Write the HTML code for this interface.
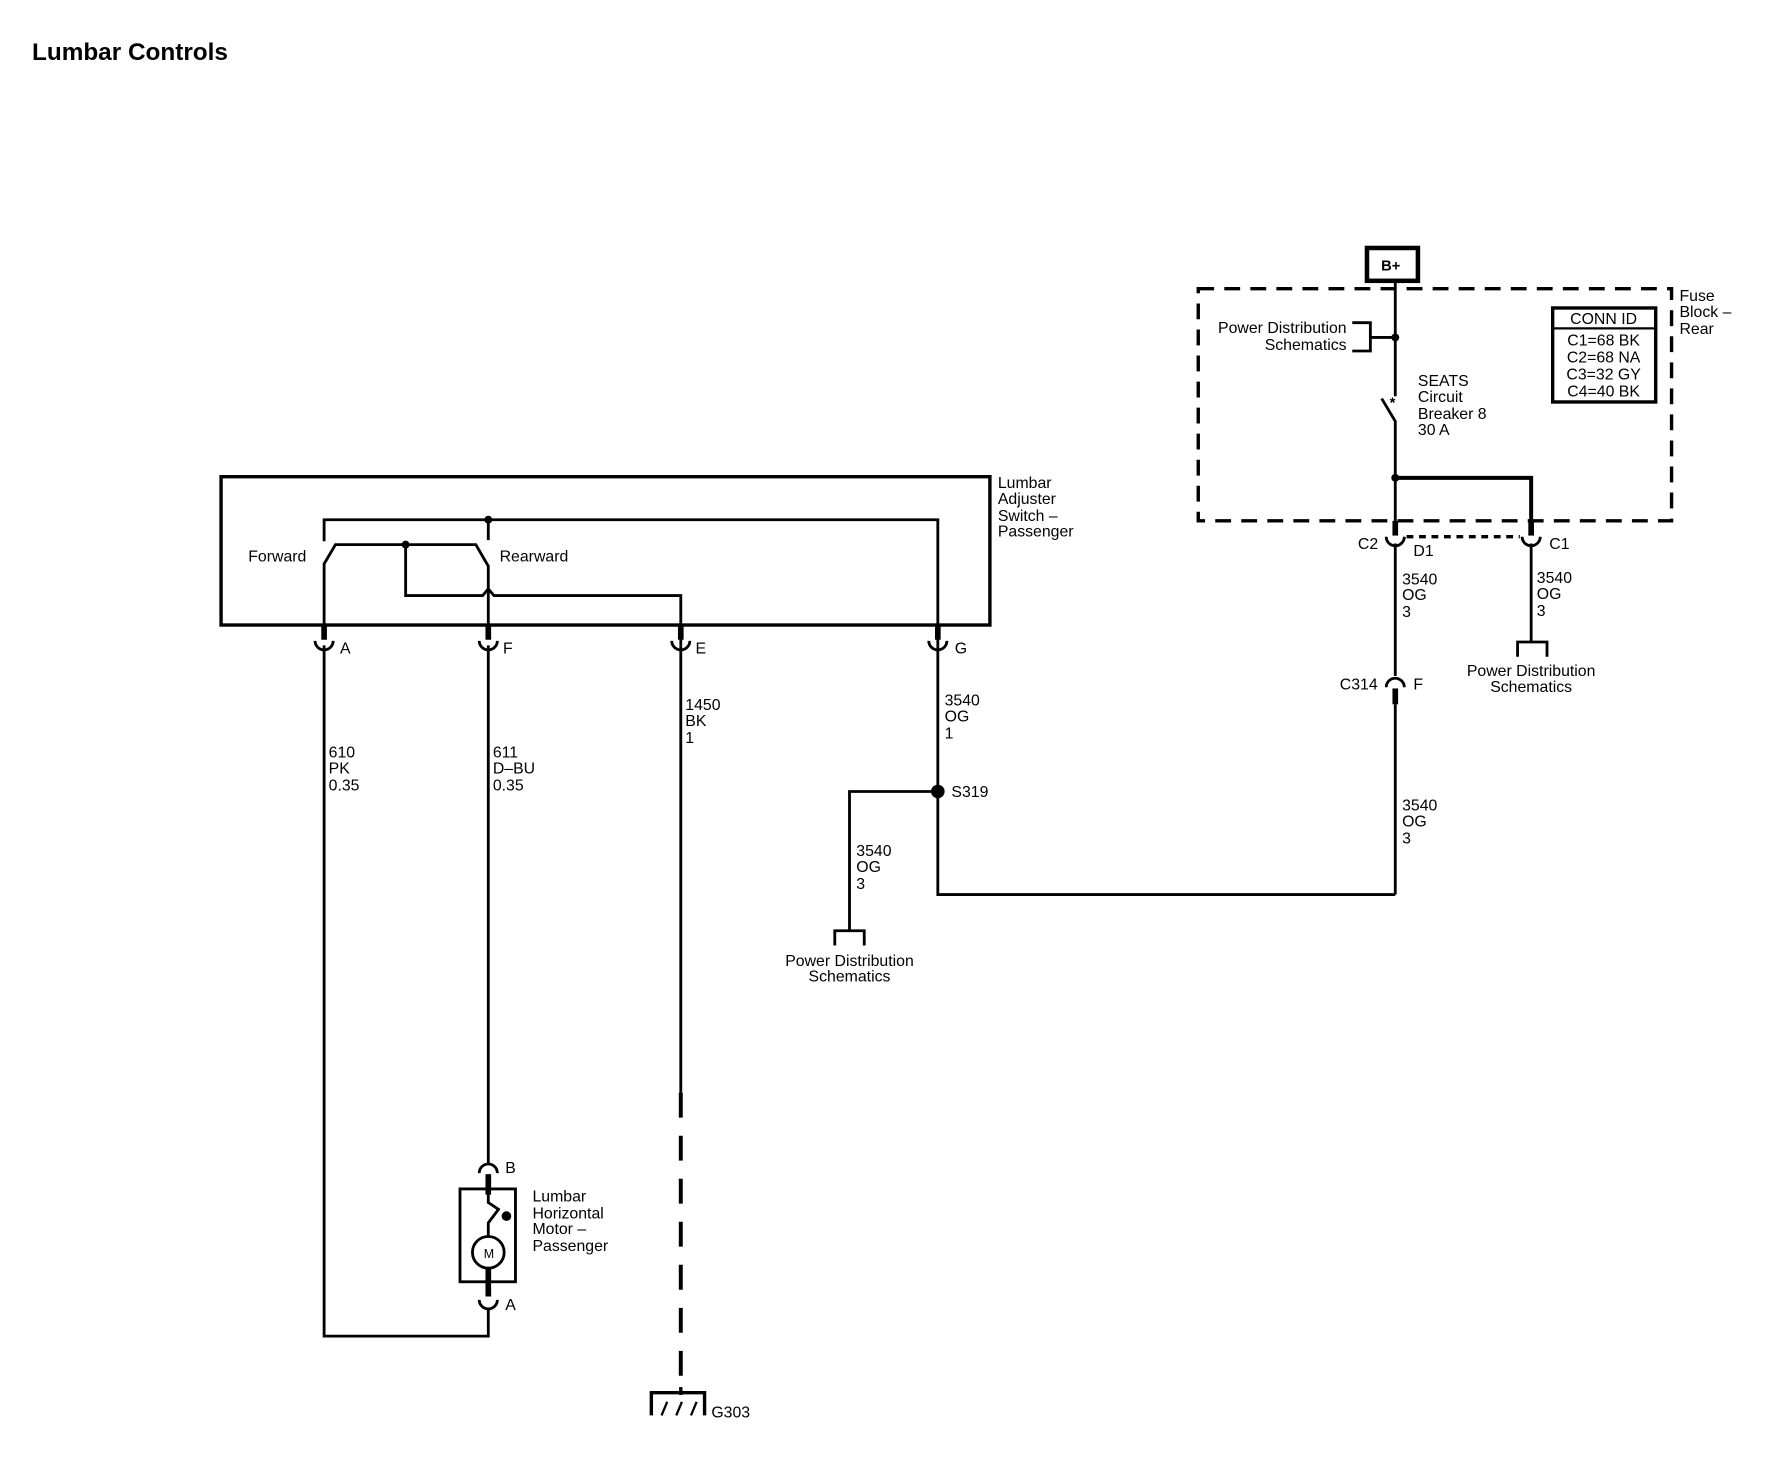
<!DOCTYPE html>
<html><head><meta charset="utf-8"><style>
html,body{margin:0;padding:0;background:#fff}
svg{display:block}
text{font-family:"Liberation Sans",sans-serif;font-size:14px;fill:#000}
</style></head><body>
<svg width="1776" height="1472" viewBox="0 0 1568 1300" xmlns="http://www.w3.org/2000/svg">
<g fill="none" stroke="#000" stroke-width="2.5">
<text x="28" y="53" style="font-size:21.5px;font-weight:bold" stroke="none">Lumbar Controls</text>
<!-- switch box -->
<rect x="195" y="421" width="679" height="131" stroke-width="3"/>
<polyline points="286,478 286,459 828,459 828,570"/>
<line x1="431" y1="459" x2="431" y2="477"/>
<polyline points="286,552 286,498 296,481 420,481 431,500 431,552"/>
<polyline points="358,481 358,526 426,526 431,520 436,526 601,526 601,570"/>
<!-- right fuse block -->
<rect x="1058" y="255" width="418" height="205" stroke-width="3" stroke-dasharray="14,9"/>
<rect x="1207" y="219" width="45" height="29" stroke-width="4"/>
<polyline points="1232,248 1232,350"/>
<polyline points="1220,352 1232,372 1232,470"/>
<polyline points="1194,285 1210,285 1210,310 1194,310"/>
<line x1="1210" y1="298" x2="1232" y2="298"/>
<polyline points="1232,422 1352,422 1352,470" stroke-width="3.5"/>
<rect x="1371" y="272" width="91" height="83" stroke-width="3"/>
<line x1="1371" y1="290" x2="1462" y2="290" stroke-width="2"/>
<line x1="1242" y1="474" x2="1342" y2="474" stroke-dasharray="6,5" stroke-width="3"/>
<line x1="1352" y1="480" x2="1352" y2="567"/>
<polyline points="1340,580 1340,567 1366,567 1366,580"/>
<line x1="1232" y1="480" x2="1232" y2="597"/>
<line x1="1232" y1="622" x2="1232" y2="790"/>
<polyline points="828,570 828,790 1232,790"/>
<polyline points="828,699 750,699 750,822"/>
<polyline points="737,835 737,822 763,822 763,835"/>
<!-- main wires -->
<polyline points="286,570 286,1180 431,1180 431,1155"/>
<line x1="431" y1="570" x2="431" y2="1027"/>
<line x1="601" y1="570" x2="601" y2="965"/>
<line x1="601" y1="965" x2="601" y2="1225" stroke-width="3.5" stroke-dasharray="22,16"/>
<polyline points="575,1250 575,1230 622,1230 622,1250" stroke-width="3"/>
<line x1="601" y1="1225" x2="601" y2="1232" stroke-width="3"/>
<path d="M584,1250 L589,1238 M597,1250 L602,1238 M610,1250 L615,1238" stroke-width="2"/>
<!-- motor -->
<rect x="406" y="1050" width="49" height="82" stroke-width="2.5"/>
<circle cx="431" cy="1106" r="14"/>
<polyline points="431,1037 431,1062 440,1068 431,1080 431,1092"/>
<line x1="431" y1="1120" x2="431" y2="1145" stroke-width="5"/>
<line x1="431" y1="1037" x2="431" y2="1055" stroke-width="5"/>
<circle cx="447" cy="1074" r="3" fill="#000"/>
<!-- connector stubs & cups -->
<g stroke-width="5"><line x1="286" y1="552" x2="286" y2="565"/><line x1="431" y1="552" x2="431" y2="565"/><line x1="601" y1="552" x2="601" y2="565"/><line x1="828" y1="552" x2="828" y2="565"/><line x1="1232" y1="460" x2="1232" y2="473"/><line x1="1352" y1="460" x2="1352" y2="473"/><line x1="1232" y1="608" x2="1232" y2="622"/></g>
<g stroke-width="2.5">
<path d="M278,566 A8,8 0 0 0 294,566"/><path d="M423,566 A8,8 0 0 0 439,566"/><path d="M593,566 A8,8 0 0 0 609,566"/><path d="M820,566 A8,8 0 0 0 836,566"/>
<path d="M1224,474 A8,8 0 0 0 1240,474"/><path d="M1344,474 A8,8 0 0 0 1360,474"/>
<path d="M1224,607 A8,8 0 0 1 1240,607"/>
<path d="M423,1036 A8,8 0 0 1 439,1036"/><path d="M423,1148 A8,8 0 0 0 439,1148"/>
</g>
</g>
<g fill="#000">
<circle cx="431" cy="459" r="3.5"/><circle cx="358" cy="481" r="3.5"/>
<circle cx="1232" cy="298" r="3.5"/><circle cx="1232" cy="422" r="3.5"/>
<circle cx="828" cy="699" r="6"/>
</g>
<text x="1228" y="239" style="font-weight:bold;font-size:13px" text-anchor="middle">B+</text>
<text x="219" y="496">Forward</text>
<text x="441" y="496">Rearward</text>
<text x="881" y="431">Lumbar</text><text x="881" y="445">Adjuster</text><text x="881" y="460">Switch –</text><text x="881" y="474">Passenger</text>
<text x="300" y="577">A</text><text x="444" y="577">F</text><text x="614" y="577">E</text><text x="843" y="577">G</text>
<text x="290" y="669">610</text><text x="290" y="683">PK</text><text x="290" y="698">0.35</text>
<text x="435" y="669">611</text><text x="435" y="683">D–BU</text><text x="435" y="698">0.35</text>
<text x="605" y="627">1450</text><text x="605" y="641">BK</text><text x="605" y="656">1</text>
<text x="834" y="623">3540</text><text x="834" y="637">OG</text><text x="834" y="652">1</text>
<text x="840" y="704">S319</text>
<text x="756" y="756">3540</text><text x="756" y="770">OG</text><text x="756" y="785">3</text>
<text x="750" y="853" text-anchor="middle">Power Distribution</text><text x="750" y="867" text-anchor="middle">Schematics</text>
<text x="1238" y="716">3540</text><text x="1238" y="730">OG</text><text x="1238" y="745">3</text>
<text x="1238" y="516">3540</text><text x="1238" y="530">OG</text><text x="1238" y="545">3</text>
<text x="1357" y="515">3540</text><text x="1357" y="529">OG</text><text x="1357" y="544">3</text>
<text x="1199" y="485">C2</text><text x="1248" y="491">D1</text><text x="1368" y="485">C1</text>
<text x="1183" y="609">C314</text><text x="1248" y="609">F</text>
<text x="1352" y="597" text-anchor="middle">Power Distribution</text><text x="1352" y="611" text-anchor="middle">Schematics</text>
<text x="1189" y="294" text-anchor="end">Power Distribution</text><text x="1189" y="309" text-anchor="end">Schematics</text>
<text x="1252" y="341">SEATS</text><text x="1252" y="355">Circuit</text><text x="1252" y="370">Breaker 8</text><text x="1252" y="384">30 A</text>
<text x="1227" y="360" style="font-size:13px;font-weight:bold">*</text>
<text x="1483" y="266">Fuse</text><text x="1483" y="280">Block –</text><text x="1483" y="295">Rear</text>
<text x="1416" y="286" text-anchor="middle">CONN ID</text>
<text x="1416" y="305" text-anchor="middle">C1=68 BK</text><text x="1416" y="320" text-anchor="middle">C2=68 NA</text><text x="1416" y="335" text-anchor="middle">C3=32 GY</text><text x="1416" y="350" text-anchor="middle">C4=40 BK</text>
<text x="446" y="1036">B</text><text x="446" y="1157">A</text>
<text x="427" y="1111" style="font-size:11px">M</text>
<text x="470" y="1061">Lumbar</text><text x="470" y="1076">Horizontal</text><text x="470" y="1090">Motor –</text><text x="470" y="1105">Passenger</text>
<text x="628" y="1252">G303</text>
</svg>
</body></html>
